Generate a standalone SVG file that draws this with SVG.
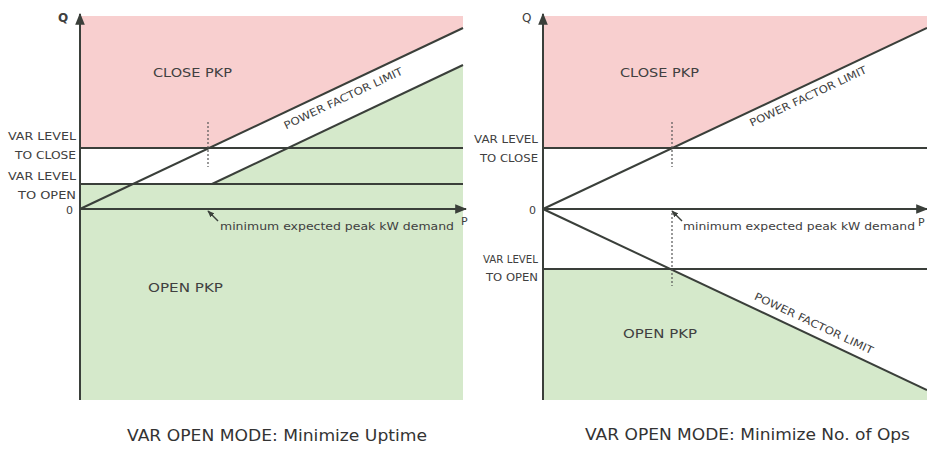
<svg xmlns="http://www.w3.org/2000/svg" width="927" height="451" viewBox="0 0 927 451">
<defs>
<style>
.pink{fill:#f8cfcf;}
.green{fill:#d5e9cb;}
.ln{stroke:#3a3f3a;stroke-width:2;fill:none;}
.dot{stroke:#555;stroke-width:1.2;stroke-dasharray:2 2;fill:none;}
.lead{stroke:#3a3f3a;stroke-width:1.4;fill:none;}
.t{font-family:"DejaVu Sans","Liberation Sans",sans-serif;fill:#404040;}
.lab{font-size:11px;}
.reg{font-size:12.5px;}
.pf{font-size:10.5px;}
.cap{font-size:16px;fill:#333;}
.ax{font-size:12px;font-weight:bold;}
</style>
<marker id="arr" viewBox="0 0 10 10" refX="9" refY="5" markerWidth="6" markerHeight="6" orient="auto">
<path d="M0,1 L10,5 L0,9 Z" fill="#3a3f3a"/>
</marker>
<marker id="arrs" viewBox="0 0 10 10" refX="9" refY="5" markerWidth="5" markerHeight="5" orient="auto">
<path d="M0,1 L10,5 L0,9 Z" fill="#3a3f3a"/>
</marker>
</defs>
<rect width="927" height="451" fill="#ffffff"/>

<g id="chart-left">
<polygon class="pink" points="80,16 463,16 463,28 209,148 80,148"/>
<polygon class="green" points="80,184 212,184 463,65 463,400 80,400"/>
<g id="connectors-left">
<line class="ln" x1="80" y1="148" x2="463" y2="148"/>
<line class="ln" x1="80" y1="184" x2="463" y2="184"/>
<line class="ln" x1="80" y1="209" x2="463" y2="28"/>
<line class="ln" x1="212" y1="184" x2="463" y2="65"/>
<line class="ln" x1="80" y1="400" x2="80" y2="14" marker-end="url(#arr)"/>
<line class="ln" x1="80" y1="209" x2="466" y2="209" marker-end="url(#arr)"/>
<line class="dot" x1="208" y1="122" x2="208" y2="167"/>
<line class="lead" x1="218" y1="221" x2="208" y2="211" marker-end="url(#arrs)"/>
</g>
<text class="t ax" x="58" y="22">Q</text>
<text class="t lab" x="76" y="140" text-anchor="end" textLength="68" lengthAdjust="spacingAndGlyphs">VAR LEVEL</text>
<text class="t lab" x="76" y="159" text-anchor="end" textLength="61" lengthAdjust="spacingAndGlyphs">TO CLOSE</text>
<text class="t lab" x="76" y="180" text-anchor="end" textLength="68" lengthAdjust="spacingAndGlyphs">VAR LEVEL</text>
<text class="t lab" x="76" y="199" text-anchor="end" textLength="58" lengthAdjust="spacingAndGlyphs">TO OPEN</text>
<text class="t lab" x="73" y="214" text-anchor="end">0</text>
<text class="t lab" x="461" y="225">P</text>
<text class="t reg" x="153" y="77" textLength="79" lengthAdjust="spacingAndGlyphs">CLOSE PKP</text>
<text class="t reg" x="148" y="292" textLength="75" lengthAdjust="spacingAndGlyphs">OPEN PKP</text>
<text class="t pf" transform="translate(343,98) rotate(-25.3)" x="0" y="4" text-anchor="middle" textLength="130" lengthAdjust="spacingAndGlyphs">POWER FACTOR LIMIT</text>
<text class="t lab" x="220" y="230" textLength="234" lengthAdjust="spacingAndGlyphs">minimum expected peak kW demand</text>
<text class="t cap" x="127" y="441" textLength="300" lengthAdjust="spacingAndGlyphs">VAR OPEN MODE: Minimize Uptime</text>
</g>

<g id="chart-right">
<polygon class="pink" points="543,16 927,16 927,28 672,148 543,148"/>
<polygon class="green" points="543,269 670,269 927,390 927,400 543,400"/>
<g id="connectors-right">
<line class="ln" x1="543" y1="148" x2="927" y2="148"/>
<line class="ln" x1="543" y1="269" x2="927" y2="269"/>
<line class="ln" x1="543" y1="209" x2="927" y2="28"/>
<line class="ln" x1="543" y1="209" x2="927" y2="390"/>
<line class="ln" x1="543" y1="400" x2="543" y2="14" marker-end="url(#arr)"/>
<line class="ln" x1="543" y1="209" x2="927" y2="209" marker-end="url(#arr)"/>
<line class="dot" x1="672" y1="122" x2="672" y2="167"/>
<line class="dot" x1="672" y1="213" x2="672" y2="286"/>
<line class="lead" x1="682" y1="221" x2="672" y2="211" marker-end="url(#arrs)"/>
</g>
<text class="t ax" x="522" y="22" style="font-weight:normal">Q</text>
<text class="t lab" x="538" y="143" text-anchor="end" textLength="64" lengthAdjust="spacingAndGlyphs">VAR LEVEL</text>
<text class="t lab" x="538" y="162" text-anchor="end" textLength="58" lengthAdjust="spacingAndGlyphs">TO CLOSE</text>
<text class="t lab" x="536" y="214" text-anchor="end">0</text>
<text class="t lab" x="538" y="263" text-anchor="end" textLength="55" lengthAdjust="spacingAndGlyphs">VAR LEVEL</text>
<text class="t lab" x="538" y="281" text-anchor="end" textLength="52" lengthAdjust="spacingAndGlyphs">TO OPEN</text>
<text class="t lab" x="918" y="226">P</text>
<text class="t reg" x="620" y="77" textLength="79" lengthAdjust="spacingAndGlyphs">CLOSE PKP</text>
<text class="t reg" x="623" y="338" textLength="74" lengthAdjust="spacingAndGlyphs">OPEN PKP</text>
<text class="t pf" transform="translate(808,96) rotate(-25.2)" x="0" y="4" text-anchor="middle" textLength="128" lengthAdjust="spacingAndGlyphs">POWER FACTOR LIMIT</text>
<text class="t pf" transform="translate(814,323) rotate(25.2)" x="0" y="4" text-anchor="middle" textLength="130" lengthAdjust="spacingAndGlyphs">POWER FACTOR LIMIT</text>
<text class="t lab" x="683" y="230" textLength="232" lengthAdjust="spacingAndGlyphs">minimum expected peak kW demand</text>
<text class="t cap" x="585" y="440" textLength="325" lengthAdjust="spacingAndGlyphs">VAR OPEN MODE: Minimize No. of Ops</text>
</g>
</svg>
